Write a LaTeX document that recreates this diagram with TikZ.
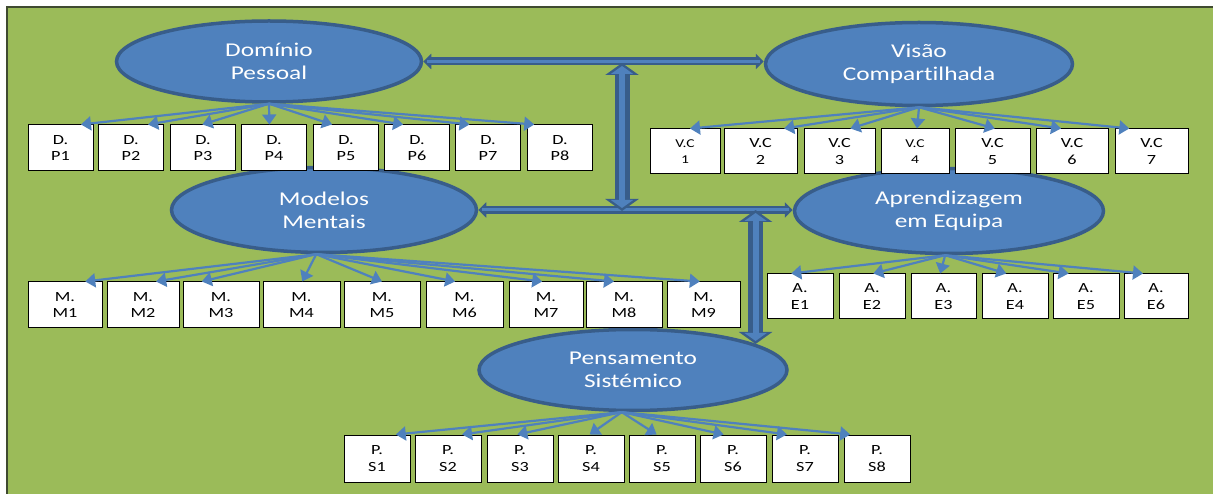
\documentclass[tikz,border=0pt]{standalone}
\usepackage{fontspec}
\setmainfont{Carlito}[FakeStretch=1.3,Ligatures=NoCommon]
\usetikzlibrary{shapes.geometric,arrows.meta,calc}
\definecolor{bggreen}{HTML}{9BBB59}
\definecolor{elfill}{HTML}{4F81BD}
\definecolor{eldraw}{HTML}{385D8A}
\definecolor{edgeline}{HTML}{3F4A30}
\tikzset{
 ell/.style={ellipse, draw=eldraw, line width=3.5pt, fill=elfill, inner sep=0pt, text=white, align=center, font=\fontsize{19.5}{23}\selectfont},
 leaf/.style={rectangle, draw=black, line width=1pt, fill=white, inner sep=0pt, align=center, font=\fontsize{14}{16.5}\selectfont},
 thinarrow/.style={draw=elfill, line width=2.2pt, -{Triangle[width=14pt,length=10pt]}},
 hbandout/.style={draw=eldraw, line width=8pt, {Triangle[width=15pt,length=8pt]}-{Triangle[width=15pt,length=8pt]}},
 hbandin/.style={draw=elfill, line width=3pt, shorten <=4pt, shorten >=4pt},
 vbandout/.style={draw=eldraw, line width=15pt, {Triangle[width=33pt,length=12pt]}-{Triangle[width=33pt,length=12pt]}},
 vbandin/.style={draw=elfill, line width=6pt, {Triangle[width=22pt,length=8pt]}-{Triangle[width=22pt,length=8pt]}, shorten <=3pt, shorten >=3pt},
}
\begin{document}
\begin{tikzpicture}[x=1pt,y=-1pt]
\useasboundingbox (0,0) rectangle (1213,494);
\fill[bggreen] (7,7) rectangle (1213,494);
\draw[edgeline, line width=2pt] (7,494) -- (7,7) -- (1213,7);

% main ellipses
\node[ell, minimum width=305pt, minimum height=81pt] (dp) at (269,61.5) {Domínio\\Pessoal};
\node[ell, minimum width=307pt, minimum height=83pt] (vc) at (919,64) {Visão\\Compartilhada};
\node[ell, minimum width=305pt, minimum height=85pt] (mm) at (324,210) {Modelos\\Mentais};
\node[ell, minimum width=309pt, minimum height=85pt] (ae) at (949,211) {Aprendizagem\\em Equipa};
\node[ell, minimum width=308pt, minimum height=81pt] (ps) at (633,370) {Pensamento\\Sistémico};

% thick double arrows
\coordinate (v1t) at (622,63);
\coordinate (v1b) at (622,211);
\draw[hbandout] (dp.east) -- (dp.east -| vc.west);
\draw[hbandin] (dp.east) -- (dp.east -| vc.west);
\draw[hbandout] (mm.east) -- (mm.east -| ae.west);
\draw[hbandin] (mm.east) -- (mm.east -| ae.west);
\draw[vbandout] (v1t) -- (v1b);
\draw[vbandin] (v1t) -- (v1b);
\draw[vbandout] (ps.12 |- mm.east) -- (ps.12);
\draw[vbandin] (ps.12 |- mm.east) -- (ps.12);

% Dominio Pessoal
\foreach \n/\cx/\f in {1/60.5/0.81, 2/131/0.76, 3/203/0.49, 4/274/0.43, 5/346/0.29, 6/417/0.29, 7/488/0.22, 8/560/0.11}{
  \node[leaf, minimum width=65pt, minimum height=46pt] (dp\n) at (\cx,148) {D.\\P\n};
  \draw[thinarrow] (dp.south) -- ($(dp\n.north west)!\f!(dp\n.north east)$);
}
% Visao Compartilhada
\foreach \n/\cx/\w/\f/\fs in {1/685/70/0.57/12, 2/760.5/73/0.82/14, 3/839.5/71/0.65/14, 4/915/68/0.53/12, 5/992.5/75/0.53/14, 6/1072/72/0.35/14, 7/1151.5/73/0.2/14}{
  \node[leaf, minimum width=\w pt, minimum height=45pt, font=\fontsize{\fs}{16.5}\selectfont] (vc\n) at (\cx,151.5) {V.C\\\n};
  \draw[thinarrow] (vc.south) -- ($(vc\n.north west)!\f!(vc\n.north east)$);
}
% Modelos Mentais
\foreach \n/\cx/\w/\f in {1/65/74/0.77, 2/143/72/0.68, 3/221/76/0.25, 4/301.5/77/0.51, 5/382/76/0.5, 6/464.5/77/0.38, 7/546/74/0.45, 8/624/76/0.37, 9/703.5/73/0.45}{
  \node[leaf, minimum width=\w pt, minimum height=46pt] (mm\n) at (\cx,305) {M.\\M\n};
  \draw[thinarrow] (mm.-100) -- ($(mm\n.north west)!\f!(mm\n.north east)$);
}
% Aprendizagem em Equipa
\foreach \n/\cx/\w/\f in {1/800/66/0.37, 2/872/66/0.52, 3/943.5/65/0.45, 4/1015/66/0.37, 5/1086/66/0.24, 6/1156/64/0.3}{
  \node[leaf, minimum width=\w pt, minimum height=45pt] (ae\n) at (\cx,296.5) {A.\\E\n};
  \draw[thinarrow] (ae.-95) -- ($(ae\n.north west)!\f!(ae\n.north east)$);
}
% Pensamento Sistemico
\foreach \n/\cx/\f in {1/377/0.78, 2/448/0.71, 3/520/0.46, 4/591/0.48, 5/662/0.42, 6/733/0.36, 7/805/0.23, 8/877/0.1}{
  \node[leaf, minimum width=66pt, minimum height=47pt] (ps\n) at (\cx,458.5) {P.\\S\n};
  \draw[thinarrow] (ps.-105) -- ($(ps\n.north west)!\f!(ps\n.north east)$);
}
\end{tikzpicture}
\end{document}
